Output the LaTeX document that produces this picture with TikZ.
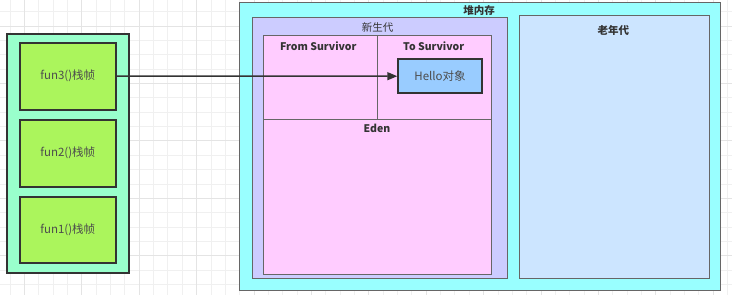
\documentclass[tikz,border=0pt]{standalone}
\usepackage{fontspec}
\setmainfont{Noto Sans CJK SC}
\usetikzlibrary{arrows.meta}
\definecolor{stackfill}{HTML}{99FFCC}
\definecolor{framefill}{HTML}{ABF55C}
\definecolor{heapfill}{HTML}{99FFFF}
\definecolor{youngfill}{HTML}{CCCCFF}
\definecolor{survfill}{HTML}{FFCCFF}
\definecolor{hellofill}{HTML}{99CCFF}
\definecolor{oldfill}{HTML}{CCE5FF}
\definecolor{darkline}{HTML}{333333}
\definecolor{grayline}{HTML}{666666}
\definecolor{txtgray}{HTML}{4D4D4D}
\definecolor{gridminor}{HTML}{F0F0F0}
\definecolor{gridmajor}{HTML}{E4E4E4}
\tikzset{
  region/.style={draw=grayline, line width=1pt, inner sep=0pt, anchor=north west},
  heavybox/.style={draw=darkline, line width=1.8pt, inner sep=0pt, anchor=north west},
  plainlabel/.style={text=txtgray, font=\fontsize{11.5}{12}\selectfont, inner sep=0pt},
  boldlabel/.style={text=darkline, font=\bfseries\fontsize{10.5}{12}\selectfont, inner sep=0pt},
  link/.style={draw=darkline, line width=1.4pt, -{Triangle[length=10pt,width=8pt]}},
}
\begin{document}
\begin{tikzpicture}[x=1pt,y=-1pt]
\useasboundingbox (0,0) rectangle (732,295);
\fill[white] (0,0) rectangle (732,295);
% background grid
\foreach \i in {0,...,50} {
  \draw[gridminor, line width=0.8pt] ({10+14.35*\i},0) -- ({10+14.35*\i},295);
}
\foreach \j in {0,...,20} {
  \draw[gridminor, line width=0.8pt] (0,{11.7+14.35*\j}) -- (732,{11.7+14.35*\j});
}
\foreach \i in {0,...,12} {
  \draw[gridmajor, line width=0.8pt] ({24.3+57.4*\i},0) -- ({24.3+57.4*\i},295);
}
\foreach \j in {0,...,5} {
  \draw[gridmajor, line width=0.8pt] (0,{26+57.4*\j}) -- (732,{26+57.4*\j});
}

% stack
\node[heavybox, fill=stackfill, minimum width=122.3pt, minimum height=238.4pt] (stack) at (5.7,33.3) {};
\node[heavybox, fill=framefill, minimum width=95.7pt, minimum height=67pt] (fun3) at (19,41.7) {};
\node[heavybox, fill=framefill, minimum width=95.7pt, minimum height=66.7pt] (fun2) at (19,119) {};
\node[heavybox, fill=framefill, minimum width=95.7pt, minimum height=66.6pt] (fun1) at (19,195.7) {};
\node[plainlabel] (fun3t) at (fun3.center) {fun3()栈帧};
\node[plainlabel] (fun2t) at (fun2.center) {fun2()栈帧};
\node[plainlabel] (fun1t) at (fun1.center) {fun1()栈帧};

% heap
\node[region, fill=heapfill, minimum width=481pt, minimum height=287.7pt] (heap) at (239,2.3) {};
\node[boldlabel] (heapt) at (479,11) {堆内存};

% young generation
\node[region, fill=youngfill, minimum width=255pt, minimum height=261pt] (young) at (251.7,17.3) {};
\node[boldlabel, font=\fontsize{10.5}{12}\selectfont] (youngt) at (377.7,27.7) {新生代};
\node[region, fill=survfill, minimum width=227.7pt, minimum height=238.7pt] (surv) at (263.3,35.3) {};
\coordinate (divtop) at (377.7,35.3);
\coordinate (divbot) at (377.7,119.3);
\coordinate (edl) at (263.3,119.3);
\coordinate (edr) at (491,119.3);
\draw[grayline, line width=1pt] (divtop) -- (divbot);
\draw[grayline, line width=1pt] (edl) -- (edr);
\node[boldlabel] (fromt) at (318.3,46) {From Survivor};
\node[boldlabel] (tot) at (433.7,46) {To Survivor};
\node[boldlabel] (edent) at (377,128.3) {Eden};
\node[heavybox, fill=hellofill, minimum width=83.7pt, minimum height=34pt] (hello) at (397.3,58.3) {};
\node[plainlabel] (hellot) at (hello.center) {Hello对象};

% old generation
\node[region, fill=oldfill, minimum width=189.7pt, minimum height=263.3pt] (old) at (519.3,14.7) {};
\node[boldlabel] (oldt) at (613.3,30.7) {老年代};

% reference
\draw[link] (fun3.east) -- (hello.west);
\end{tikzpicture}
\end{document}
